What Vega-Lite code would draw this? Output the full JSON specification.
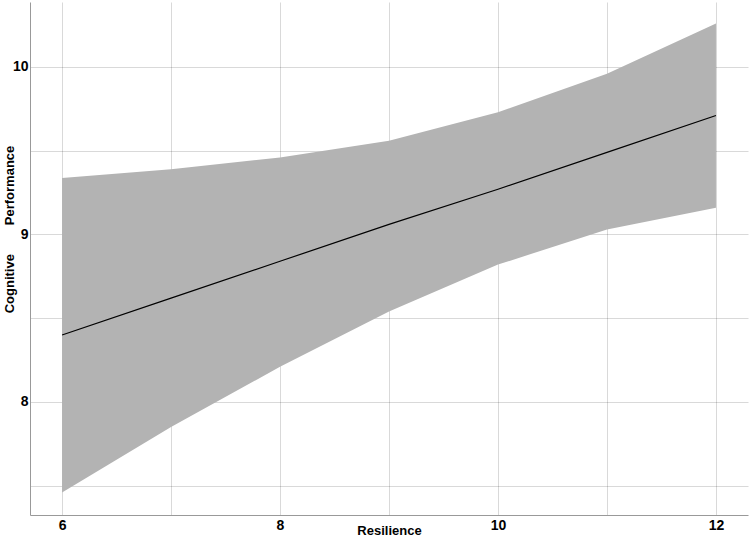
{
  "$schema": "https://vega.github.io/schema/vega-lite/v6.json",
  "width": 718,
  "height": 513,
  "padding": {"left": 30, "top": 2, "right": 2, "bottom": 26},
  "autosize": {"type": "none"},
  "config": {
    "view": {"stroke": null},
    "font": "Liberation Sans",
    "axis": {
      "labelFont": "Liberation Sans",
      "titleFont": "Liberation Sans",
      "labelFontWeight": "bold",
      "titleFontWeight": "bold",
      "labelFontSize": 14,
      "titleFontSize": 13,
      "labelColor": "#000",
      "titleColor": "#000",
      "ticks": false,
      "domainColor": "#999",
      "gridColor": "#000",
      "gridOpacity": 0.15,
      "zindex": 1
    }
  },
  "data": {
    "values": [
      {"x": 6, "lower": 7.46, "upper": 9.337, "fit": 8.40},
      {"x": 7, "lower": 7.85, "upper": 9.39, "fit": 8.62},
      {"x": 8, "lower": 8.21, "upper": 9.46, "fit": 8.84},
      {"x": 9, "lower": 8.54, "upper": 9.56, "fit": 9.06},
      {"x": 10, "lower": 8.82, "upper": 9.73, "fit": 9.27},
      {"x": 11, "lower": 9.03, "upper": 9.96, "fit": 9.49},
      {"x": 12, "lower": 9.16, "upper": 10.26, "fit": 9.71}
    ]
  },
  "layer": [
    {
      "mark": {"type": "area", "color": "#b3b3b3", "opacity": 1},
      "encoding": {
        "x": {
          "field": "x", "type": "quantitative",
          "scale": {"domain": [5.706, 12.294], "nice": false, "zero": false},
          "axis": {
            "values": [6, 7, 8, 9, 10, 11, 12],
            "format": "d",
            "labelExpr": "datum.value % 2 == 0 ? datum.label : ''",
            "title": "Resilience",
            "labelPadding": 3,
            "titlePadding": -8
          }
        },
        "y": {
          "field": "lower", "type": "quantitative",
          "scale": {"domain": [7.325, 10.388], "nice": false, "zero": false},
          "axis": {
            "values": [7.5, 8, 8.5, 9, 9.5, 10],
            "format": "~g",
            "labelExpr": "datum.value % 1 == 0 ? datum.label : ''",
            "title": "Cognitive\u00a0\u00a0\u00a0\u00a0\u00a0\u00a0\u00a0\u00a0Performance",
            "labelPadding": 2,
            "titleX": -21,
            "titleY": 227,
            "titleAngle": -90,
            "titleAlign": "center",
            "titleBaseline": "middle"
          }
        },
        "y2": {"field": "upper"}
      }
    },
    {
      "mark": {"type": "line", "color": "#000", "strokeWidth": 1.2},
      "encoding": {
        "x": {"field": "x", "type": "quantitative"},
        "y": {"field": "fit", "type": "quantitative"}
      }
    }
  ]
}
